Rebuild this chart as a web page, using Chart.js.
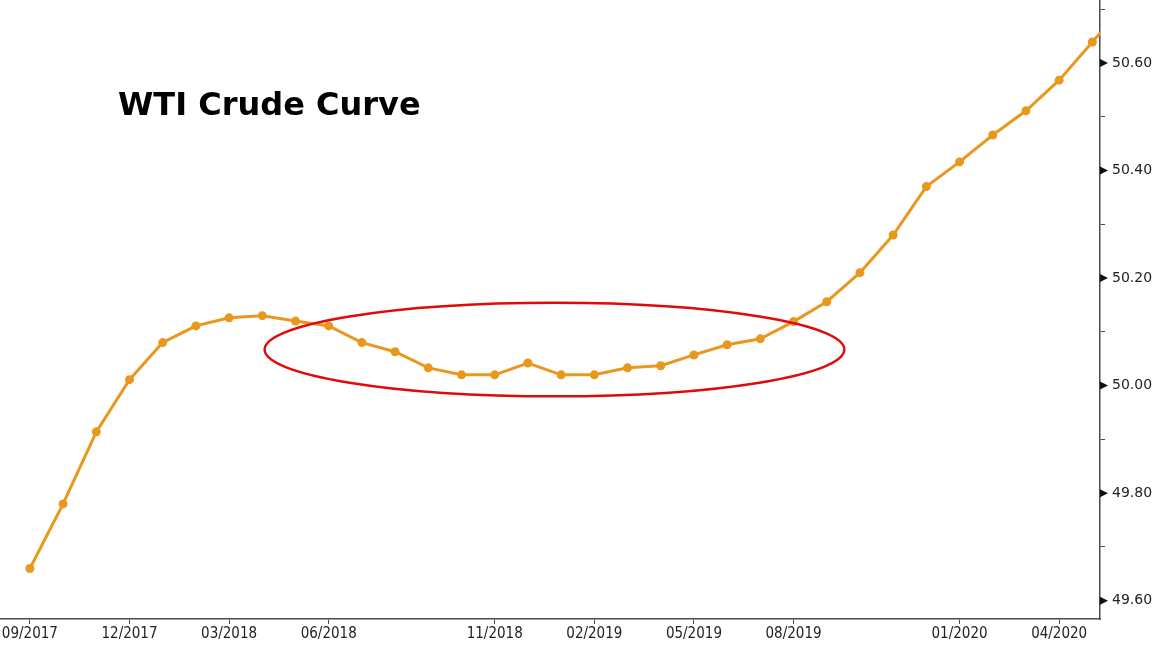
<!DOCTYPE html>
<html>
<head>
<meta charset="utf-8">
<script src="https://cdn.jsdelivr.net/npm/chart.js@4/dist/chart.umd.min.js"></script>
<style>
    html, body { margin: 0; padding: 0; background: #fff; }
    #wrap { position: relative; width: 1155px; height: 645px; }
    #title {
        position: absolute;
        left: 118px;
        top: 85px;
        font: bold 32px "DejaVu Sans", sans-serif;
        color: #000;
        white-space: nowrap;
    }
</style>
</head>
<body>
<div id="wrap">
    <canvas id="curve-chart"></canvas>
    <div id="title">WTI Crude Curve</div>
</div>
<script>
// contract months, 09/2017 .. 06/2020 (last one runs off the right edge)
const months = [
    "09/2017", "10/2017", "11/2017", "12/2017", "01/2018", "02/2018", "03/2018", "04/2018",
    "05/2018", "06/2018", "07/2018", "08/2018", "09/2018", "10/2018", "11/2018", "12/2018",
    "01/2019", "02/2019", "03/2019", "04/2019", "05/2019", "06/2019", "07/2019", "08/2019",
    "09/2019", "10/2019", "11/2019", "12/2019", "01/2020", "02/2020", "03/2020", "04/2020",
    "05/2020", "06/2020",
];

const prices = [
    49.66, 49.78, 49.914, 50.011, 50.08, 50.111, 50.126, 50.13,
    50.12, 50.111, 50.08, 50.063, 50.033, 50.02, 50.02, 50.042,
    50.02, 50.02, 50.033, 50.037, 50.057, 50.076, 50.087, 50.119,
    50.156, 50.21, 50.28, 50.37, 50.416, 50.466, 50.511, 50.568,
    50.639, 50.71,
];

const xTickLabels = ["09/2017", "12/2017", "03/2018", "06/2018", "11/2018", "02/2019", "05/2019", "08/2019", "01/2020", "04/2020"];
const yMajorTicks = [49.6, 49.8, 50.0, 50.2, 50.4, 50.6];
const yMinorTicks = [49.7, 49.9, 50.1, 50.3, 50.5, 50.7];

// red ring drawn round the flat part of the curve, in data units
const highlight = { cx: 15.8, cy: 50.067, rx: 8.73, ry: 0.087 };

const axisColor = "#4a4a4a";

const extrasPlugin = {
    id: "extras",
    afterDatasetsDraw(chart) {
        const { ctx, chartArea, scales } = chart;
        const x = scales.x;
        const y = scales.y;

        // highlight ellipse
        const cx = x.getPixelForValue(highlight.cx);
        const cy = y.getPixelForValue(highlight.cy);
        const rx = x.getPixelForValue(highlight.cx + highlight.rx) - cx;
        const ry = cy - y.getPixelForValue(highlight.cy + highlight.ry);
        ctx.save();
        ctx.beginPath();
        ctx.ellipse(cx, cy, rx, ry, 0, 0, Math.PI * 2);
        ctx.strokeStyle = "#e00a0a";
        ctx.lineWidth = 2.5;
        ctx.stroke();

        // arrow heads on the major y ticks
        ctx.fillStyle = "#111";
        for (const v of yMajorTicks) {
            const py = y.getPixelForValue(v);
            ctx.beginPath();
            ctx.moveTo(chartArea.right, py - 4);
            ctx.lineTo(chartArea.right + 8, py);
            ctx.lineTo(chartArea.right, py + 4);
            ctx.closePath();
            ctx.fill();
        }
        ctx.restore();
    },
};

new Chart(document.getElementById("curve-chart"), {
    type: "line",
    data: {
        datasets: [
            {
                data: prices.map((p, i) => ({ x: i, y: p })),
                borderColor: "#e9981e",
                backgroundColor: "#e9981e",
                borderWidth: 3,
                pointRadius: 4.5,
                pointHoverRadius: 4.5,
                pointBorderWidth: 0,
                tension: 0,
                clip: 0,
            },
        ],
    },
    options: {
        responsive: true,
        maintainAspectRatio: false,
        animation: false,
        layout: { padding: 0, autoPadding: false },
        plugins: {
            legend: { display: false },
            tooltip: { enabled: false },
        },
        scales: {
            x: {
                type: "linear",
                min: -0.9,
                max: 32.23,
                afterFit(scale) {
                    scale.height = 26;
                    scale.paddingLeft = 0;
                    scale.paddingRight = 0;
                },
                afterBuildTicks(scale) {
                    scale.ticks = xTickLabels.map((m) => ({ value: months.indexOf(m) }));
                },
                ticks: {
                    autoSkip: false,
                    maxRotation: 0,
                    padding: 1,
                    color: "#222",
                    font: { family: "DejaVu Sans Condensed", size: 15 },
                    callback: (v) => months[v],
                },
                grid: {
                    drawOnChartArea: false,
                    drawTicks: true,
                    tickLength: 5,
                    color: axisColor,
                },
                border: { display: true, color: axisColor, width: 1.5 },
            },
            y: {
                position: "right",
                min: 49.566,
                max: 50.717,
                afterFit(scale) {
                    scale.width = 55;
                    scale.paddingTop = 0;
                    scale.paddingBottom = 0;
                },
                afterBuildTicks(scale) {
                    scale.ticks = [...yMajorTicks, ...yMinorTicks]
                        .sort((a, b) => a - b)
                        .map((v) => ({ value: v }));
                },
                ticks: {
                    padding: 7,
                    color: "#222",
                    font: { family: "DejaVu Sans", size: 14 },
                    callback: (v) => (yMajorTicks.some((m) => Math.abs(m - v) < 1e-6) ? v.toFixed(2) : ""),
                },
                grid: {
                    drawOnChartArea: false,
                    drawTicks: true,
                    tickLength: 5,
                    color: axisColor,
                },
                border: { display: true, color: axisColor, width: 1.5 },
            },
        },
    },
    plugins: [extrasPlugin],
});
</script>
</body>
</html>
